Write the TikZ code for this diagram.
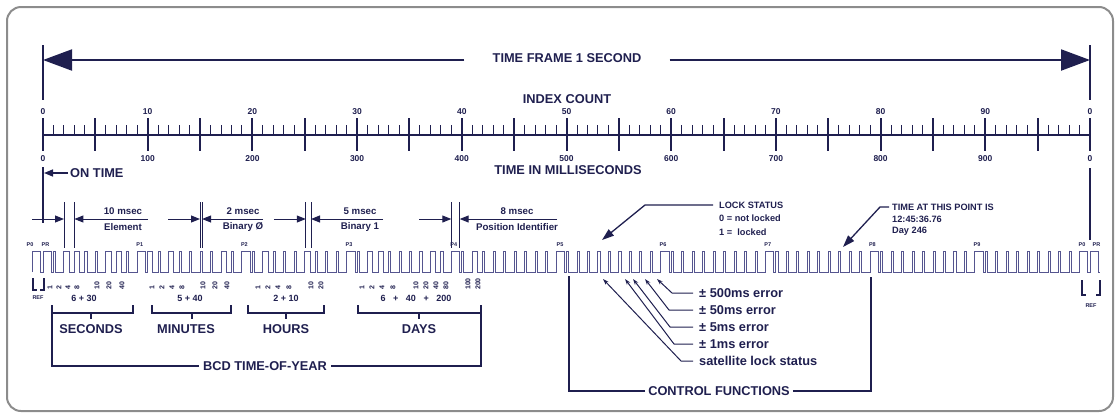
\documentclass[tikz,border=0pt]{standalone}
\usepackage{fontspec}
\setmainfont{Liberation Sans}
\usetikzlibrary{arrows.meta}
\definecolor{navy}{HTML}{1F1F4F}
\definecolor{wavec}{HTML}{55558F}
\definecolor{framec}{HTML}{8C8C8C}

\begin{document}
\begin{tikzpicture}[x=1pt,y=-1pt,
  every node/.style={inner sep=0pt,text=navy},
  frame/.style={draw=framec,line width=2pt,rounded corners=14pt},
  heavy/.style={draw=navy,line width=2pt},
  fine/.style={draw=navy,line width=1pt},
  brk/.style={draw=navy,line width=1.6pt},
  brkb/.style={draw=navy,line width=1.2pt},
  wave/.style={draw=wavec,line width=0.9pt},
  big/.style={font=\fontsize{12.8}{14}\selectfont\bfseries},
  mid/.style={font=\fontsize{9.7}{11}\selectfont\bfseries},
  lk/.style={font=\fontsize{9.2}{11}\selectfont\bfseries,anchor=west},
  num/.style={font=\fontsize{8.5}{10}\selectfont\bfseries},
  grp/.style={font=\fontsize{9}{10}\selectfont\bfseries},
  tiny/.style={font=\fontsize{5.5}{6}\selectfont\bfseries},
  bit/.style={font=\fontsize{7}{8}\selectfont\bfseries,rotate=90,anchor=west},
  bigtip/.style={-{Triangle[length=29pt,width=21pt]}},
  midtip/.style={-{Triangle[length=9pt,width=7pt]}},
  leadtip/.style={-{Triangle[length=12pt,width=8pt]}},
  smalltip/.style={-{Stealth[length=6pt,width=4pt]}}]
  \useasboundingbox (0,0) rectangle (1115,413);
  \draw[frame] (7,7) rectangle (1113,411);

  \coordinate (fl) at (43,60);
  \coordinate (fr) at (1090,60);
  \draw[heavy] (43,45) -- (43,100);
  \draw[heavy] (1090,45) -- (1090,100);
  \node[big,inner xsep=28pt] (tframe) at (567,58) {TIME FRAME 1 SECOND};
  \draw[heavy,bigtip] (tframe.west |- fl) -- (fl);
  \draw[heavy,bigtip] (tframe.east |- fr) -- (fr);

  \node[big] (index) at (567,99) {INDEX COUNT};
  \draw[heavy] (43,135) -- (1090,135);
  \foreach \i in {0,...,100}
    \draw[navy,line width=0.9pt] ({43+10.47*\i},125) -- ({43+10.47*\i},135);
  \foreach \i in {0,5,...,100}
    \draw[heavy] ({43+10.47*\i},118) -- ({43+10.47*\i},151);
  \foreach \i [evaluate=\i as \n using int(10*\i),
               evaluate=\i as \m using int(100*\i)] in {0,...,9} {
    \node[num] (ix\i) at ({43+104.7*\i},112) {\n};
    \node[num] (ms\i) at ({43+104.7*\i},159) {\m};
  }
  \node[num] (ix10) at (1090,112) {0};
  \node[num] (ms10) at (1090,159) {0};
  \node[big] (msec) at (568,170) {TIME IN MILLISECONDS};

  \draw[navy,line width=1.3pt] (43,167) -- (43,223);
  \draw[navy,line width=1.3pt] (1090,168) -- (1090,240);
  \node[big,anchor=west] (ontime) at (70,173) {ON TIME};
  \draw[navy,line width=1.5pt,midtip] ([xshift=-2pt]ontime.west) -- (44,173);

  \foreach \a/\b/\c/\e/\s/\t/\n in {64/74.4/123/148/10 msec/Element/el,
      200/202.1/243/263/2 msec/Binary Ø/bz,
      305.8/311/360/383/5 msec/Binary 1/bo,
      451.3/459.7/517/557/8 msec/Position Identifier/pi} {
    \draw[fine] (\a,202) -- (\a,248);
    \draw[fine] (\b,202) -- (\b,248);
    \draw[fine,midtip] (\a-32,219) -- (\a,219);
    \draw[fine,midtip] (\e,219) -- (\b,219);
    \node[mid] (\n top) at (\c,211) {\s};
    \node[mid] (\n bot) at (\c,227) {\t};
  }

  \draw[wave] (32.53,272) \foreach \h in {8,8,
      2,5,5,2,2,5,5,2,8, 5,2,5,2,2,2,2,5,2,8,
      2,5,2,2,2,5,2,2,2,8, 2,5,5,2,2,2,2,5,2,8,
      2,5,2,2,2,2,2,2,2,8, 2,2,2,2,2,2,2,2,2,8,
      2,2,2,2,2,2,2,2,2,8, 2,2,2,2,2,2,2,2,2,8,
      2,2,2,2,2,2,2,2,2,8, 2,2,2,2,2,2,2,2,2,8, 8}
    { -- ++(0,-21) -- ++(1.047*\h,0) -- ++(0,21) -- ++(10.47-1.047*\h,0) };
  \foreach \x/\p [count=\c] in {30/P0,45.5/PR,139.7/P1,244.4/P2,349/P3,453.8/P4,
      560/P5,663/P6,767.7/P7,872.4/P8,977/P9,1082/P0,1096.5/PR}
    \node[tiny] (pm\c) at (\x,245) {\p};

  \foreach \x/\v [count=\c] in {50/1,59/2,68/4,77/8,97/10,109/20,122/40,
      152/1,162/2,172/4,182/8,203/10,215/20,227/40,
      258/1,268/2,278/4,289/8,311/10,321/20,
      362/1,372/2,382/4,393/8,416/10,426/20,436/40,446/80,468/100,478/200}
    \node[bit] (b\c) at (\x,290) {\v};
  \node[grp] (secv) at (84,298) {6 + 30};
  \node[grp] (minv) at (190,298) {5 + 40};
  \node[grp] (hrv) at (286,298) {2 + 10};
  \node[grp] (dayv) at (416,298) {6\hspace{5pt} + \hspace{5pt}40\hspace{5pt} + \hspace{5pt}200};

  \foreach \l/\r/\m/\tx/\n/\t in {52/133/91/91/sec/SECONDS,152/231/192/186/min/MINUTES,
      248/324/286/286/hr/HOURS,358/481/419/419/day/DAYS} {
    \draw[brk] (\l,305) -- (\l,313) -- (\r,313) -- (\r,305);
    \draw[brk] (\m,313) -- (\m,319);
    \node[big] (\n) at (\tx,329) {\t};
  }
  \node[big] (bcd) at (265,366) {BCD TIME-OF-YEAR};
  \draw[brkb] ([xshift=-4pt]bcd.west) -- (52,366) -- (52,313);
  \draw[brkb] ([xshift=4pt]bcd.east) -- (481,366) -- (481,313);

  \draw[brkb] (33,278) -- (33,290) -- (37,290);
  \draw[brkb] (44,278) -- (44,290) -- (40,290);
  \node[tiny] (refl) at (38,298) {REF};
  \draw[brkb] (1082,280) -- (1082,295) -- (1086,295);
  \draw[brkb] (1100,280) -- (1100,295) -- (1096,295);
  \node[tiny] (refr) at (1091,306) {REF};

  \node[lk] (lock) at (719,205) {LOCK STATUS};
  \node[lk] (lock0) at (719,218) {0 = not locked};
  \node[lk] (lock1) at (719,232) {1 =\ \ locked};
  \draw[navy,line width=1.3pt,leadtip] ([xshift=-6pt]lock.west) -- (645,205) -- (602,240);
  \node[lk] (tap) at (892,207) {TIME AT THIS POINT IS};
  \node[lk] (tap1) at (892,219) {12:45:36.76};
  \node[lk] (tap2) at (892,231) {Day 246};
  \draw[navy,line width=1.3pt,leadtip] ([xshift=-3pt]tap.west) -- (880,207) -- (843,247);

  \foreach \y/\tx/\cx/\t [count=\c] in {293/657/672/± 500ms error,
      310/645/669/± 50ms error,327/633/670/± 5ms error,
      344/625/674/± 1ms error,361/603/681/satellite lock status} {
    \node[big,anchor=west] (err\c) at (699,\y) {\t};
    \draw[fine,smalltip] ([xshift=-6pt]err\c.west) -- (\cx,\y) -- (\tx,279);
  }
  \node[big] (ctrl) at (719,391) {CONTROL FUNCTIONS};
  \draw[brkb] ([xshift=-3pt]ctrl.west) -- (569,391) -- (569,276);
  \draw[brkb] ([xshift=3pt]ctrl.east) -- (871,391) -- (871,277);
\end{tikzpicture}
\end{document}
